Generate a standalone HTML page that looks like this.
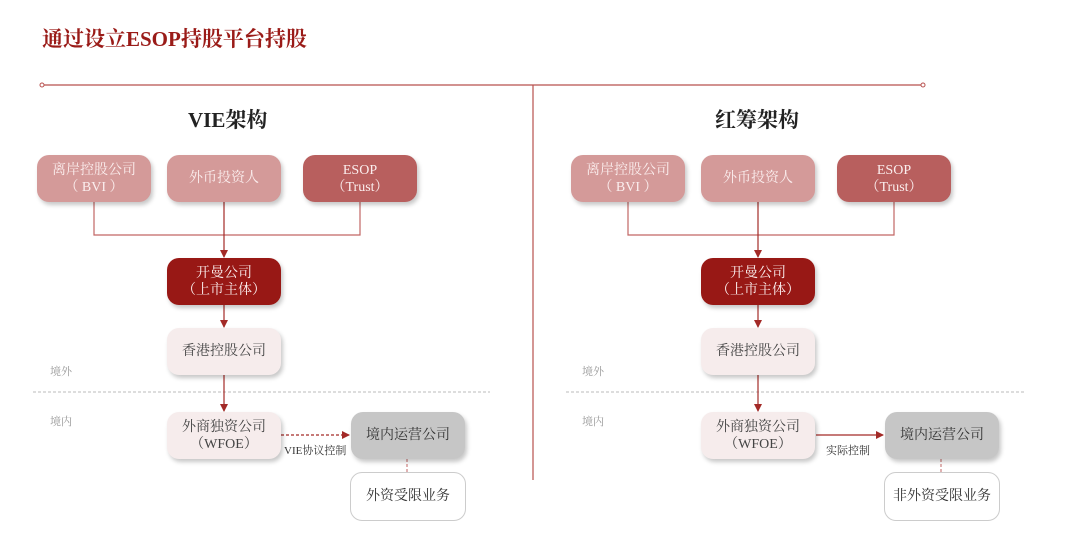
<!DOCTYPE html>
<html><head><meta charset="utf-8"><style>
body{margin:0;width:1080px;height:534px;background:#fff;position:relative;overflow:hidden;font-family:"Liberation Serif","Noto Serif CJK SC",serif}
.b{position:absolute;width:114px;height:47px;border-radius:12px;display:flex;align-items:center;justify-content:center;text-align:center;font-size:14px;line-height:17px;box-shadow:2px 3px 4px rgba(0,0,0,0.22)}
.p{background:#d49a99;color:#fbeeee}
.e{background:#b85f5e;color:#fbeeee}
.k{background:#981815;color:#fbeeee}
.l{background:#f6ecec;color:#444}
.g{background:#c6c6c6;color:#333}
.w{background:#fff;color:#333;border:1px solid #ccc;box-shadow:none}
.t{position:absolute;font-size:21px;font-weight:bold;color:#222}
.s{position:absolute;font-size:11px;color:#999}
.c{position:absolute;font-size:11px;color:#333}
</style></head><body>
<div style="position:absolute;left:42px;top:23px;font-size:21px;font-weight:bold;color:#9a1b18">通过设立ESOP持股平台持股</div>
<svg width="1080" height="534" style="position:absolute;left:0;top:0">
<defs><marker id="a" markerWidth="8" markerHeight="8" refX="7" refY="4" orient="auto" markerUnits="userSpaceOnUse"><path d="M0,0 L8,4 L0,8z" fill="#a32a27"/></marker></defs>
<line x1="44" y1="85" x2="921" y2="85" stroke="#b8504e" stroke-width="1.2"/>
<circle cx="42" cy="85" r="2" fill="#fff" stroke="#b8504e"/><circle cx="923" cy="85" r="2" fill="#fff" stroke="#b8504e"/>
<line x1="533" y1="85" x2="533" y2="480" stroke="#b8504e" stroke-width="1.2"/>
<line x1="33" y1="392" x2="490" y2="392" stroke="#bbb" stroke-dasharray="3,2"/>
<line x1="566" y1="392" x2="1024" y2="392" stroke="#bbb" stroke-dasharray="3,2"/>
<g stroke="#c26664" fill="none" stroke-width="1.2">
<path d="M94 202 V235 H360 V202"/><path d="M628 202 V235 H894 V202"/>
</g>
<g stroke="#a32a27" stroke-width="1.2" marker-end="url(#a)">
<line x1="224" y1="202" x2="224" y2="257"/><line x1="224" y1="305" x2="224" y2="327"/><line x1="224" y1="375" x2="224" y2="411"/>
<line x1="758" y1="202" x2="758" y2="257"/><line x1="758" y1="305" x2="758" y2="327"/><line x1="758" y1="375" x2="758" y2="411"/>
<line x1="281" y1="435" x2="349" y2="435" stroke-dasharray="3,2"/>
<line x1="816" y1="435" x2="883" y2="435"/>
</g>
<line x1="407" y1="459" x2="407" y2="472" stroke="#c26664" stroke-dasharray="3,2"/>
<line x1="941" y1="459" x2="941" y2="472" stroke="#c26664" stroke-dasharray="3,2"/>
</svg>
<div class="t" style="left:188px;top:104px">VIE架构</div>
<div class="t" style="left:715px;top:104px">红筹架构</div>
<div class="s" style="left:50px;top:363px">境外</div><div class="s" style="left:50px;top:413px">境内</div>
<div class="s" style="left:582px;top:363px">境外</div><div class="s" style="left:582px;top:413px">境内</div>

<div class="b p" style="left:37px;top:155px">离岸控股公司<br>（ BVI ）</div>
<div class="b p" style="left:167px;top:155px">外币投资人</div>
<div class="b e" style="left:303px;top:155px">ESOP<br>（Trust）</div>
<div class="b k" style="left:167px;top:258px">开曼公司<br>（上市主体）</div>
<div class="b l" style="left:167px;top:328px">香港控股公司</div>
<div class="b l" style="left:167px;top:412px">外商独资公司<br>（WFOE）</div>
<div class="b g" style="left:351px;top:412px">境内运营公司</div>
<div class="b w" style="left:350px;top:472px">外资受限业务</div>
<div class="c" style="left:284px;top:442px">VIE协议控制</div>

<div class="b p" style="left:571px;top:155px">离岸控股公司<br>（ BVI ）</div>
<div class="b p" style="left:701px;top:155px">外币投资人</div>
<div class="b e" style="left:837px;top:155px">ESOP<br>（Trust）</div>
<div class="b k" style="left:701px;top:258px">开曼公司<br>（上市主体）</div>
<div class="b l" style="left:701px;top:328px">香港控股公司</div>
<div class="b l" style="left:701px;top:412px">外商独资公司<br>（WFOE）</div>
<div class="b g" style="left:885px;top:412px">境内运营公司</div>
<div class="b w" style="left:884px;top:472px">非外资受限业务</div>
<div class="c" style="left:826px;top:442px">实际控制</div>
</body></html>
